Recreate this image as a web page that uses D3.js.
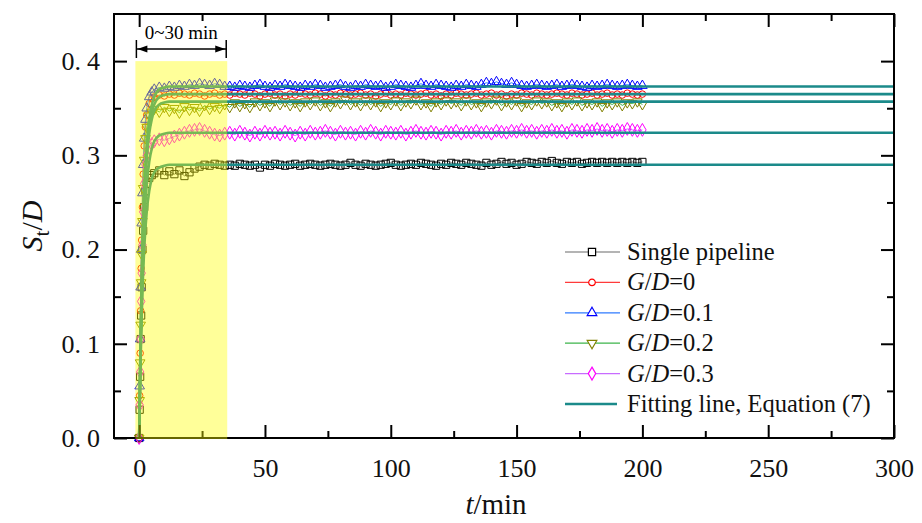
<!DOCTYPE html>
<html><head><meta charset="utf-8">
<script src="https://cdn.jsdelivr.net/npm/d3@7"></script>
<style>body{margin:0;background:#fff} svg{display:block}</style>
</head><body><svg id="c" width="922" height="523"></svg>
<script>
// ---------------- DATA ----------------
const times = [0,0.2,0.4,0.6,0.8,1,1.3,1.6,2,2.5,3,4,5,
6,8,10,12,14,16,18,20,22,24,26,28,30,32,34,36,38,40,42,44,46,48,50,52,54,56,58,60,
62,64,66,68,70,72,74,76,78,80,82,84,86,88,90,92,94,96,98,100,102,104,106,108,110,112,114,116,118,120,
122,124,126,128,130,132,134,136,138,140,142,144,146,148,150,152,154,156,158,160,162,164,166,168,170,172,174,176,178,180,
182,184,186,188,190,192,194,196,198,200];

const seriesLabels = ["Single pipeline", "G/D=0", "G/D=0.1", "G/D=0.2", "G/D=0.3"];

const singlePipeline = [0,0.03,0.065,0.105,0.13,0.16,0.2,0.22,0.245,0.262,0.27,0.276,0.279,
0.281,0.284,0.279,0.283,0.280,0.284,0.278,0.282,0.286,0.288,0.290,0.289,0.291,0.290,0.289,
0.290,0.289,0.291,0.290,0.289,0.290,0.287,0.290,0.289,0.291,0.290,0.289,0.290,0.291,0.289,
0.290,0.291,0.290,0.289,0.290,0.291,0.290,0.289,0.290,0.292,0.290,0.289,0.291,0.290,0.289,
0.290,0.291,0.292,0.290,0.289,0.290,0.291,0.290,0.292,0.291,0.290,0.289,0.291,0.290,0.292,
0.291,0.290,0.292,0.291,0.290,0.289,0.292,0.290,0.291,0.293,0.291,0.292,0.290,0.291,0.293,
0.292,0.291,0.293,0.292,0.294,0.292,0.291,0.293,0.292,0.293,0.291,0.292,0.293,0.292,0.293,
0.292,0.293,0.292,0.293,0.292,0.293,0.292,0.293];

const gd0 = [0,0.045,0.09,0.135,0.18,0.21,0.245,0.28,0.31,0.33,0.343,0.355,0.36,
0.362,0.364,0.363,0.365,0.364,0.366,0.365,0.364,0.366,0.365,0.363,0.365,0.366,0.364,0.365,
0.364,0.366,0.365,0.364,0.366,0.365,0.363,0.365,0.366,0.364,0.365,0.363,0.365,0.364,0.366,
0.365,0.364,0.366,0.365,0.363,0.365,0.364,0.366,0.365,0.364,0.365,0.366,0.364,0.365,0.363,
0.365,0.366,0.364,0.365,0.364,0.366,0.365,0.364,0.365,0.366,0.364,0.365,0.363,0.365,0.364,
0.366,0.365,0.364,0.365,0.366,0.364,0.365,0.366,0.364,0.365,0.363,0.365,0.364,0.366,0.365,
0.364,0.366,0.365,0.364,0.365,0.366,0.365,0.364,0.366,0.365,0.364,0.365,0.366,0.364,0.365,
0.366,0.364,0.365,0.364,0.366,0.365,0.364,0.365];

const gd01 = [0,0.055,0.105,0.16,0.2,0.228,0.26,0.29,0.318,0.338,0.35,0.362,0.367,
0.370,0.372,0.371,0.373,0.372,0.374,0.373,0.375,0.374,0.376,0.375,0.374,0.376,0.375,0.373,
0.373,0.372,0.374,0.373,0.372,0.374,0.375,0.373,0.372,0.374,0.373,0.375,0.374,0.373,0.372,
0.374,0.373,0.375,0.374,0.372,0.373,0.374,0.375,0.373,0.372,0.374,0.373,0.375,0.374,0.373,
0.374,0.372,0.373,0.375,0.374,0.373,0.372,0.374,0.376,0.374,0.373,0.375,0.374,0.373,0.372,
0.374,0.373,0.375,0.374,0.373,0.375,0.377,0.376,0.378,0.376,0.375,0.377,0.375,0.374,0.373,
0.374,0.375,0.374,0.373,0.374,0.375,0.373,0.374,0.375,0.374,0.373,0.372,0.374,0.373,0.374,
0.375,0.374,0.373,0.374,0.375,0.374,0.373,0.374];

const gd02 = [0,0.04,0.08,0.12,0.165,0.195,0.23,0.265,0.295,0.318,0.33,0.342,0.346,
0.349,0.346,0.351,0.347,0.350,0.345,0.352,0.348,0.351,0.347,0.353,0.349,0.352,0.350,0.354,
0.351,0.356,0.352,0.355,0.351,0.357,0.353,0.356,0.352,0.358,0.354,0.357,0.353,0.356,0.352,
0.357,0.354,0.358,0.353,0.356,0.352,0.357,0.355,0.359,0.354,0.357,0.353,0.358,0.354,0.357,
0.352,0.356,0.354,0.358,0.353,0.357,0.355,0.359,0.354,0.356,0.352,0.357,0.354,0.358,0.355,
0.357,0.353,0.358,0.354,0.356,0.352,0.357,0.355,0.359,0.353,0.357,0.354,0.358,0.352,0.356,
0.354,0.358,0.355,0.357,0.353,0.356,0.352,0.357,0.354,0.358,0.353,0.356,0.354,0.357,0.352,
0.356,0.354,0.357,0.353,0.356,0.355,0.357,0.354];

const gd03 = [0,0.035,0.07,0.105,0.145,0.175,0.205,0.24,0.27,0.29,0.3,0.308,0.312,
0.315,0.317,0.316,0.318,0.320,0.322,0.324,0.326,0.327,0.328,0.326,0.324,0.322,0.321,0.323,
0.324,0.322,0.325,0.323,0.321,0.324,0.322,0.325,0.323,0.324,0.322,0.325,0.323,0.321,0.324,
0.322,0.325,0.323,0.324,0.326,0.324,0.322,0.325,0.323,0.324,0.322,0.325,0.323,0.326,0.324,
0.322,0.325,0.324,0.323,0.325,0.322,0.324,0.326,0.324,0.323,0.325,0.324,0.322,0.325,0.324,
0.326,0.323,0.325,0.324,0.326,0.324,0.325,0.323,0.326,0.325,0.324,0.326,0.325,0.327,0.325,
0.326,0.324,0.326,0.325,0.327,0.325,0.326,0.324,0.327,0.326,0.325,0.327,0.326,0.328,0.326,
0.327,0.325,0.327,0.326,0.328,0.327,0.326,0.327];

// Fitting lines, Equation (7)
const fitLabel = "Fitting line, Equation (7)";
const fitTimes = [0,0.5,1,1.5,2,3,4,5,6,8,10,12,300];
const fitSingle = [0,0.074,0.129,0.170,0.201,0.240,0.262,0.275,0.282,0.287,0.289,0.290,0.290];
const fitGd0    = [0,0.093,0.162,0.214,0.253,0.303,0.330,0.346,0.354,0.362,0.364,0.365,0.365];
const fitGd01   = [0,0.095,0.166,0.219,0.258,0.309,0.338,0.353,0.362,0.370,0.372,0.373,0.373];
const fitGd02   = [0,0.091,0.159,0.209,0.247,0.296,0.323,0.338,0.347,0.354,0.356,0.357,0.357];
const fitGd03   = [0,0.083,0.144,0.190,0.224,0.269,0.293,0.307,0.315,0.321,0.323,0.324,0.324];

const xTicks = [0,50,100,150,200,250,300];
const xMinorTicks = [25,75,125,175,225,275];
const yTicks = [0,0.1,0.2,0.3,0.4];
const yMinorTicks = [0.05,0.15,0.25,0.35];
const highlightRange = [-1.5, 35];
const highlightTop = 0.4;
const highlightLabel = "0~30 min";

// ---------------- CHART ----------------
const FONT = "'Liberation Serif','Times New Roman',serif";
const svg = d3.select("#c");
const L = 114, R = 894, T = 14, B = 438;
const x = d3.scaleLinear().domain([-10, 300]).range([L, R]);
const y = d3.scaleLinear().domain([0, 0.45]).range([B, T]);

const styles = [
  {values: singlePipeline, fit: fitSingle, color: "#000000", line: "#6b6b6b", sym: d3.symbolSquare, size: 52, rot: 0},
  {values: gd0,  fit: fitGd0,  color: "#ff0000", line: "#ff3b3b", sym: d3.symbolCircle, size: 34, rot: 0},
  {values: gd01, fit: fitGd01, color: "#0000ff", line: "#2f7bff", sym: d3.symbolTriangle, size: 40, rot: 0},
  {values: gd02, fit: fitGd02, color: "#808000", line: "#3cb44b", sym: d3.symbolTriangle, size: 40, rot: 180},
  {values: gd03, fit: fitGd03, color: "#ff00ff", line: "#c86bff", sym: d3.symbolDiamond, size: 48, rot: 0}
];

const plot = svg.append("g");
const line = d3.line().x(d => x(d[0])).y(d => y(d[1]));
styles.forEach(s => {
  const pts = times.map((t, i) => [t, s.values[i]]);
  plot.append("path").attr("d", line(pts)).attr("fill", "none")
    .attr("stroke", s.line).attr("stroke-width", 1);
  plot.append("g").selectAll("path").data(pts).enter().append("path")
    .attr("transform", d => `translate(${x(d[0])},${y(d[1])}) rotate(${s.rot})`)
    .attr("d", d3.symbol(s.sym, s.size)())
    .attr("fill", "none").attr("stroke", s.color).attr("stroke-width", 1);
});
const fitLine = d3.line().curve(d3.curveMonotoneX).x(d => x(d[0])).y(d => y(d[1]));
styles.forEach(s => {
  const pts = fitTimes.map((t, i) => [t, s.fit[i]]);
  plot.append("path").attr("d", fitLine(pts)).attr("fill", "none")
    .attr("stroke", "#1b8a8a").attr("stroke-width", 2.6);
});

// axes
function styleAxis(g, w) {
  g.select(".domain").remove();
  g.selectAll(".tick line").attr("stroke", "#000").attr("stroke-width", w);
}
const gB = svg.append("g").attr("transform", `translate(0,${B})`)
  .call(d3.axisBottom(x).tickValues(xTicks).tickSizeInner(-13).tickSizeOuter(0).tickPadding(21).tickFormat(d3.format("d")));
styleAxis(gB, 2);
gB.selectAll(".tick text").attr("font-family", FONT).attr("font-size", 26).attr("fill", "#111");
const gBm = svg.append("g").attr("transform", `translate(0,${B})`)
  .call(d3.axisBottom(x).tickValues(xMinorTicks).tickSizeInner(-7).tickSizeOuter(0).tickFormat(""));
styleAxis(gBm, 2);
const gT = svg.append("g").attr("transform", `translate(0,${T})`)
  .call(d3.axisTop(x).tickValues(xTicks).tickSizeInner(-13).tickSizeOuter(0).tickFormat(""));
styleAxis(gT, 2);
const gTm = svg.append("g").attr("transform", `translate(0,${T})`)
  .call(d3.axisTop(x).tickValues(xMinorTicks).tickSizeInner(-7).tickSizeOuter(0).tickFormat(""));
styleAxis(gTm, 2);

const gLft = svg.append("g").attr("transform", `translate(${L},0)`)
  .call(d3.axisLeft(y).tickValues(yTicks).tickSizeInner(-13).tickSizeOuter(0).tickPadding(14).tickFormat(d3.format(".1f")));
styleAxis(gLft, 2);
gLft.selectAll(".tick text").each(function(d) {
  const parts = d3.format(".1f")(d).split(".");
  const t = d3.select(this).attr("font-family", FONT).attr("font-size", 26).attr("fill", "#111");
  t.text(null);
  t.append("tspan").text(parts[0] + ".");
  t.append("tspan").attr("dx", 6).text(parts[1]);
});
const gLm = svg.append("g").attr("transform", `translate(${L},0)`)
  .call(d3.axisLeft(y).tickValues(yMinorTicks).tickSizeInner(-7).tickSizeOuter(0).tickFormat(""));
styleAxis(gLm, 2);
const gR = svg.append("g").attr("transform", `translate(${R},0)`)
  .call(d3.axisRight(y).tickValues(yTicks).tickSizeInner(-13).tickSizeOuter(0).tickFormat(""));
styleAxis(gR, 2);
const gRm = svg.append("g").attr("transform", `translate(${R},0)`)
  .call(d3.axisRight(y).tickValues(yMinorTicks).tickSizeInner(-7).tickSizeOuter(0).tickFormat(""));
styleAxis(gRm, 2);

svg.append("rect").attr("x", L).attr("y", T).attr("width", R - L).attr("height", B - T)
  .attr("fill", "none").attr("stroke", "#000").attr("stroke-width", 2);

// highlight overlay (on top)
const hx0 = x(highlightRange[0]), hx1 = x(highlightRange[1]);
svg.append("rect").attr("x", hx0).attr("y", y(highlightTop)).attr("width", hx1 - hx0)
  .attr("height", B + 1 - y(highlightTop)).attr("fill", "#ffff00").attr("fill-opacity", 0.4);

// bracket annotation
const ann = svg.append("g").attr("stroke", "#000").attr("stroke-width", 1.5);
ann.append("line").attr("x1", hx0 + 1).attr("x2", hx0 + 1).attr("y1", 40).attr("y2", 58);
ann.append("line").attr("x1", hx1 - 1).attr("x2", hx1 - 1).attr("y1", 40).attr("y2", 58);
ann.append("line").attr("x1", hx0 + 1).attr("x2", hx1 - 1).attr("y1", 49).attr("y2", 49);
svg.append("path").attr("d", `M${hx0 + 2},49 L${hx0 + 12},45.5 L${hx0 + 12},52.5 Z`).attr("fill", "#000");
svg.append("path").attr("d", `M${hx1 - 2},49 L${hx1 - 12},45.5 L${hx1 - 12},52.5 Z`).attr("fill", "#000");
svg.append("text").attr("x", (hx0 + hx1) / 2).attr("y", 39).attr("text-anchor", "middle")
  .attr("font-family", FONT).attr("font-size", 19).text(highlightLabel);

// axis titles
const xt = svg.append("text").attr("x", 496).attr("y", 514).attr("text-anchor", "middle")
  .attr("font-family", FONT).attr("font-size", 29).attr("fill", "#111");
xt.append("tspan").attr("font-style", "italic").text("t");
xt.append("tspan").text("/min");
const yt = svg.append("text").attr("transform", "translate(42,226) rotate(-90)").attr("text-anchor", "middle")
  .attr("font-family", FONT).attr("font-size", 30).attr("fill", "#111");
yt.append("tspan").attr("font-style", "italic").text("S");
yt.append("tspan").attr("font-size", 21).attr("dy", 7).text("t");
yt.append("tspan").attr("dy", -7).text("/");
yt.append("tspan").attr("font-style", "italic").text("D");

// legend
function richLabel(sel, label) {
  label.split(/(G|D)/).filter(p => p.length).forEach(p => {
    sel.append("tspan").attr("font-style", (p === "G" || p === "D") ? "italic" : "normal").text(p);
  });
}
const lg = svg.append("g");
const ly0 = 252, ldy = 30.4;
styles.forEach((s, i) => {
  const yy = ly0 + i * ldy;
  lg.append("line").attr("x1", 565).attr("x2", 620).attr("y1", yy).attr("y2", yy)
    .attr("stroke", s.line).attr("stroke-width", 1.2);
  lg.append("path").attr("transform", `translate(592,${yy}) rotate(${s.rot})`)
    .attr("d", d3.symbol(s.sym, s.size)()).attr("fill", "#fff").attr("stroke", s.color).attr("stroke-width", 1.2);
  const t = lg.append("text").attr("x", 627).attr("y", yy + 8).attr("font-family", FONT)
    .attr("font-size", 24.5).attr("fill", "#111");
  richLabel(t, seriesLabels[i]);
});
const fy = ly0 + 5 * ldy;
lg.append("line").attr("x1", 565).attr("x2", 617).attr("y1", fy).attr("y2", fy)
  .attr("stroke", "#1b8a8a").attr("stroke-width", 2.5);
lg.append("text").attr("x", 627).attr("y", fy + 8).attr("font-family", FONT)
  .attr("font-size", 24.5).attr("fill", "#111").text(fitLabel);
</script>
</body></html>
